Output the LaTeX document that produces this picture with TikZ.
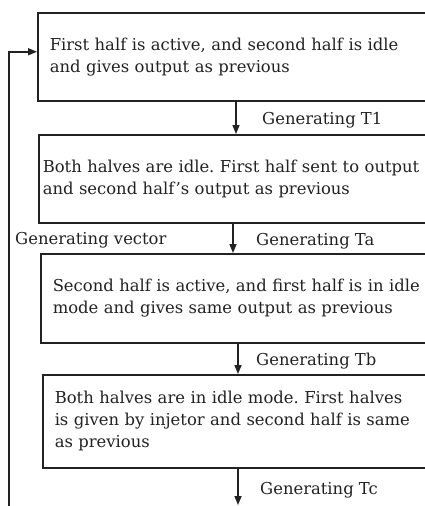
\documentclass[tikz,border=0pt]{standalone}
\usepackage{fontspec}
\setmainfont{DejaVu Serif}
\usetikzlibrary{arrows.meta,calc}
\definecolor{ink}{HTML}{222222}
\begin{document}
\frenchspacing
\begin{tikzpicture}[x=1pt,y=-1pt,
  box/.style={draw=ink,line width=1.5pt,anchor=north west,minimum height=88pt,
    text width=395pt,align=left,inner ysep=0pt,text=ink,
    font=\fontsize{16.4}{22}\selectfont},
  lbl/.style={anchor=west,inner sep=0pt,text=ink,font=\fontsize{16.4}{18}\selectfont},
  arr/.style={draw=ink,line width=1.5pt,-{Triangle[length=9pt,width=7pt]}}]
\useasboundingbox (0,0) rectangle (424,506);
\fill[white] (0,0) rectangle (424,506);
\node[box,inner xsep=12pt] (b1) at (37,12) {First half is active, and second half is idle\\and gives output as previous};
\node[box,inner xsep=4pt] (b2) at (38,134) {Both halves are idle. First half sent to output\\and second half's output as previous};
\node[box,inner xsep=12pt,minimum height=89pt] (b3) at (40,253) {Second half is active, and first half is in idle\\mode and gives same output as previous};
\node[box,inner xsep=12pt,minimum height=93pt] (b4) at (42,374) {Both halves are in idle mode. First halves\\is given by injetor and second half is same\\as previous};
\node[lbl] (t1) at (262,120) {Generating T1};
\node[lbl] (vec) at (15,240) {Generating vector};
\node[lbl] (ta) at (256,241) {Generating Ta};
\node[lbl] (tb) at (256,361) {Generating Tb};
\node[lbl] (tc) at (260,490) {Generating Tc};
\coordinate (end) at (238,505);
\coordinate (fb) at (9,506);
\draw[arr] (b1.south -| 236,0) -- (b2.north -| 236,0);
\draw[arr] (b2.south -| 233,0) -- (b3.north -| 233,0);
\draw[arr] (b3.south -| 238,0) -- (b4.north -| 238,0);
\draw[arr] (b4.south -| 238,0) -- (end);
\draw[arr] (fb) |- ([yshift=5pt]b1.west);
\end{tikzpicture}
\end{document}
